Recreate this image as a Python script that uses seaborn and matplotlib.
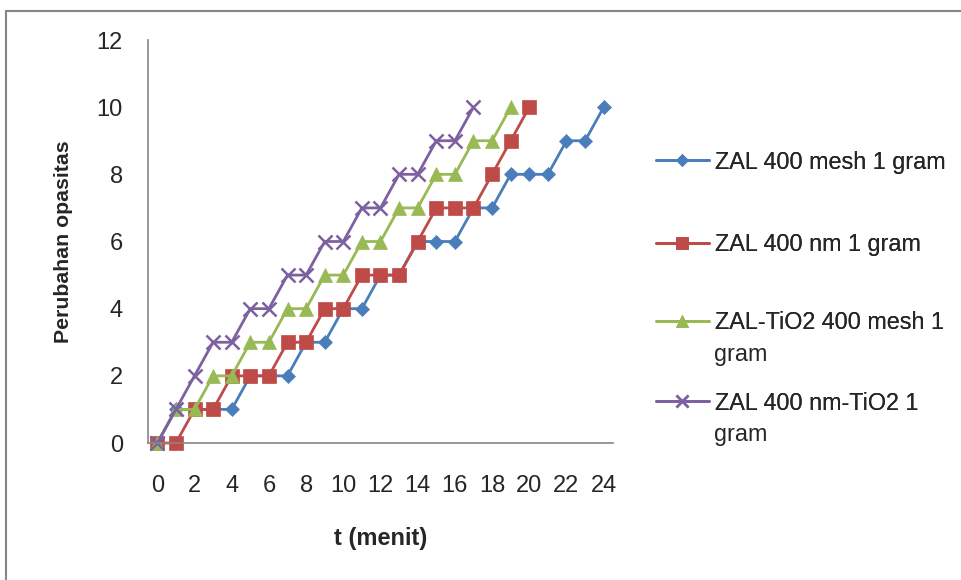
import numpy as np
import pandas as pd
import matplotlib
matplotlib.use("Agg")
import matplotlib.pyplot as plt
import seaborn as sns
from matplotlib.lines import Line2D
from matplotlib.patches import Rectangle

# ---- data ----
series_names = [
    "ZAL 400 mesh 1 gram",
    "ZAL 400 nm 1 gram",
    "ZAL-TiO2 400 mesh 1 gram",
    "ZAL 400 nm-TiO2 1 gram",
]
legend_first_lines = [
    "ZAL 400 mesh 1 gram",
    "ZAL 400 nm 1 gram",
    "ZAL-TiO2 400 mesh 1",
    "ZAL 400 nm-TiO2 1",
]
legend_second_lines = ["", "", "gram", "gram"]
zal_mesh = [0, 1, 1, 1, 1, 2, 2, 2, 3, 3, 4, 4, 5, 5, 6, 6, 6, 7, 7, 8, 8, 8, 9, 9, 10]
zal_nm = [0, 0, 1, 1, 2, 2, 2, 3, 3, 4, 4, 5, 5, 5, 6, 7, 7, 7, 8, 9, 10]
zal_tio2_mesh = [0, 1, 1, 2, 2, 3, 3, 4, 4, 5, 5, 6, 6, 7, 7, 8, 8, 9, 9, 10]
zal_nm_tio2 = [0, 1, 2, 3, 3, 4, 4, 5, 5, 6, 6, 7, 7, 8, 8, 9, 9, 10]
x_ticks = [0, 2, 4, 6, 8, 10, 12, 14, 16, 18, 20, 22, 24]
y_ticks = [0, 2, 4, 6, 8, 10, 12]

colors = ["#4a7ebb", "#be4b48", "#98b954", "#7d60a0"]
markers = ["D", "s", "^", "x"]
msizes = [7, 10, 10, 10]

all_vals = [zal_mesh, zal_nm, zal_tio2_mesh, zal_nm_tio2]
frames = []
for name, vals in zip(series_names, all_vals):
    frames.append(pd.DataFrame({"t": np.arange(len(vals)), "v": vals, "s": name}))
df = pd.concat(frames, ignore_index=True)

sns.set_style("white")
plt.rcParams["font.family"] = ["Liberation Sans", "DejaVu Sans"]

W, H = 962, 580
fig = plt.figure(figsize=(W / 100, H / 100), dpi=100)
ax = fig.add_axes([148 / W, 1 - 443 / H, (613 - 148) / W, (443 - 40) / H])

for name, c, m, ms in zip(series_names, colors, markers, msizes):
    sub = df[df["s"] == name]
    sns.lineplot(data=sub, x="t", y="v", ax=ax, color=c, marker=m,
                 markersize=ms, markeredgecolor=c,
                 markeredgewidth=1.8 if m == "x" else 0.5,
                 linewidth=2, legend=False, clip_on=False)

TICK_FS = 17
ax.set_xlim(-0.5, 24.5)
ax.set_ylim(0, 12)
ax.set_xticks(x_ticks)
ax.set_xticklabels([str(v) for v in x_ticks], fontsize=TICK_FS)
ax.set_xticks(np.arange(-0.5, 25, 1), minor=True)
ax.set_yticks(y_ticks)
ax.set_yticklabels([str(v) for v in y_ticks], fontsize=TICK_FS)
ax.tick_params(axis="x", which="major", length=0, pad=23)
ax.tick_params(axis="x", which="minor", length=6, width=1, color="#868686", direction="out")
ax.tick_params(axis="y", which="major", length=6, width=1, color="#868686", direction="out", pad=12)
for sp in ["top", "right"]:
    ax.spines[sp].set_visible(False)
for sp in ["left", "bottom"]:
    ax.spines[sp].set_color("#868686")
    ax.spines[sp].set_linewidth(1.2)

ax.set_xlabel("t (menit)", fontsize=17, fontweight="bold")
ax.xaxis.label.set_va("center")
ax.xaxis.set_label_coords(0.5, (443 - 538) / (443 - 40))
ax.set_ylabel("Perubahan opasitas", fontsize=15.3, fontweight="bold")
ax.yaxis.label.set_va("center")
ax.yaxis.set_label_coords((63 - 148) / (613 - 148), 0.5)
ax.set_facecolor("none")

# outer chart frame
fig.patches.append(Rectangle((6 / W, -0.1), 1.1, 1 - 11 / H + 0.1, transform=fig.transFigure,
                             fill=False, edgecolor="#868686", linewidth=1.5))

# legend: one entry per legend object, evenly spaced like the original
LEG_FS = 16.8
legend_y = [162, 245, 323, 403]
for lab1, lab2, c, m, ms, y in zip(legend_first_lines, legend_second_lines, colors,
                                    markers, msizes, legend_y):
    h = Line2D([], [], color=c, marker=m, markersize=ms * 0.9, markeredgecolor=c,
               markeredgewidth=1.8 if m == "x" else 0.5, linewidth=2)
    lg = fig.legend([h], [lab1], loc="center left",
                    bbox_to_anchor=(656 / W, 1 - y / H),
                    frameon=False, fontsize=LEG_FS, handlelength=2.25,
                    handletextpad=0.26, borderpad=0, borderaxespad=0)
    fig.add_artist(lg)
    if lab2:
        fig.text(714 / W, 1 - (y + 32) / H, lab2, fontsize=LEG_FS, va="center", ha="left")

fig.savefig("out.png", dpi=100)
